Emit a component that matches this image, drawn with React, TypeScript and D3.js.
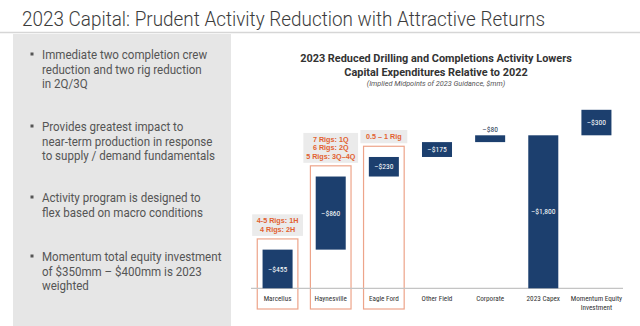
import React from "react";
import * as d3 from "d3";

const categories = ["Marcellus", "Haynesville", "Eagle Ford", "Other Field", "Corporate", "2023 Capex", "Momentum Equity Investment"];
const catLines = [["Marcellus"], ["Haynesville"], ["Eagle Ford"], ["Other Field"], ["Corporate"], ["2023 Capex"], ["Momentum Equity", "Investment"]];
const values = [455, 860, 230, 175, 80, 1800, 300];
const kinds = ["step", "step", "step", "step", "step", "total", "step"];
const valueLabels = ["–$455", "–$860", "–$230", "–$175", "–$80", "–$1,800", "–$300"];
const rigNotes: (string[] | null)[] = [
  ["4-5 Rigs: 1H", "4 Rigs: 2H"],
  ["7 Rigs: 1Q", "6 Rigs: 2Q", "5 Rigs: 3Q–4Q"],
  ["0.5 – 1 Rig"],
  null, null, null, null,
];
const bullets = [
  ["Immediate two completion crew", "reduction and two rig reduction", "in 2Q/3Q"],
  ["Provides greatest impact to", "near-term production in response", "to supply / demand fundamentals"],
  ["Activity program is designed to", "flex based on macro conditions"],
  ["Momentum total equity investment", "of $350mm – $400mm is 2023", "weighted"],
];
const bulletTops = [55, 127, 198, 257];
const pageTitle = "2023 Capital: Prudent Activity Reduction with Attractive Returns";
const chartTitle = ["2023 Reduced Drilling and Completions Activity Lowers", "Capital Expenditures Relative to 2022"];
const chartSub = "(Implied Midpoints of 2023 Guidance, $mm)";

const NAVY = "#1c3f6e";
const ORANGE = "#e2612f";
const ORANGE_BOX = "#eda48a";
const NARROW = "'Liberation Sans Narrow', 'Roboto Condensed', 'Arial Narrow', sans-serif";

export default function App() {
  const W = 640, H = 326;
  const x = d3.scaleBand<string>().domain(categories).range([251, 623]).paddingInner(0.435).paddingOuter(0.2175);
  const y = d3.scaleLinear().domain([0, 2100]).range([288.3, 109.8]);

  let cum = 0;
  const bars = categories.map((c, i) => {
    let y0: number, y1: number;
    if (kinds[i] === "total") {
      y0 = 0; y1 = values[i]; cum = values[i];
    } else {
      y0 = cum; y1 = cum + values[i]; cum = y1;
    }
    return { c, i, y0, y1 };
  });

  return (
    <svg width={W} height={H} style={{ position: "absolute", left: 0, top: 0, background: "#fff" }}>
      <rect x={0} y={0} width={W} height={H} fill="#fff" />
      <text x={22} y={26} fontFamily="Roboto, 'Liberation Sans', sans-serif" fontWeight={300} fontSize={20.5} fill="#3c3c3c" textLength={523} lengthAdjust="spacingAndGlyphs">{pageTitle}</text>
      <line x1={0} x2={W} y1={32.5} y2={32.5} stroke="#d6d6d6" strokeWidth={1.5} />
      <rect x={13} y={34} width={218} height={292} fill="#e6e6e6" />
      {bullets.map((lines, bi) => (
        <g key={bi}>
          <rect x={30.5} y={bulletTops[bi] - 2.5} width={3} height={3} fill="#555" />
          <g transform="translate(42,0) scale(0.918,1)">
            {lines.map((l, li) => (
              <text key={li} x={0} y={bulletTops[bi] + 4.5 + li * 14.5} fontFamily="Roboto, 'Liberation Sans', sans-serif" fontSize={12.6} fill="#555">{l}</text>
            ))}
          </g>
        </g>
      ))}

      {chartTitle.map((t, i) => (
        <text key={i} x={436} y={62 + i * 14} textAnchor="middle" fontFamily="Roboto, 'Liberation Sans', sans-serif" fontWeight={700} fontSize={10.9} fill="#333">{t}</text>
      ))}
      <text x={436} y={85.5} textAnchor="middle" fontFamily="Roboto, 'Liberation Sans', sans-serif" fontStyle="italic" fontSize={7.3} fill="#555">{chartSub}</text>

      {bars.map(b => {
        const notes = rigNotes[b.i];
        if (!notes) return null;
        const bx = x(b.c)!;
        const bw = x.bandwidth();
        const top = y(b.y1) - 10.7;
        const bottom = 309;
        const maxLen = d3.max(notes, n => n.length)!;
        const gw = maxLen * 3.9 + 4;
        const gh = notes.length * 8.3 + 5;
        const cx = bx + bw / 2;
        return (
          <g key={"n" + b.i}>
            <rect x={bx - 5.3} y={top} width={bw + 10.6} height={bottom - top} fill="none" stroke={ORANGE_BOX} strokeWidth={1.2} />
            <rect x={cx - gw / 2} y={top - 3 - gh} width={gw} height={gh} fill="#ebebeb" />
            {notes.map((n, k) => (
              <text key={k} x={cx} y={top - 3 - gh + 9 + k * 8.3} textAnchor="middle" fontFamily="'Liberation Sans', Roboto, sans-serif" fontWeight={700} fontSize={7.2} fill={ORANGE}>{n}</text>
            ))}
          </g>
        );
      })}

      <line x1={251} x2={623} y1={y(0)} y2={y(0)} stroke="#c4c4c4" strokeWidth={1.2} />

      {bars.map(b => {
        const bx = x(b.c)!;
        const bw = x.bandwidth();
        const yt = y(b.y1), yb = y(b.y0);
        const h = yb - yt;
        const inside = h > 12;
        return (
          <g key={b.c}>
            <rect x={bx} y={yt} width={bw} height={h} fill={NAVY} />
            <text x={bx + bw / 2} y={inside ? (yt + yb) / 2 + 2.6 : yt - 3} textAnchor="middle" fontFamily={NARROW} fontSize={7.6} fill={inside ? "#fff" : "#2a3a55"}>{valueLabels[b.i]}</text>
          </g>
        );
      })}

      {categories.map((c, i) => (
        <g key={"l" + i}>
          {catLines[i].map((l, k) => (
            <text key={k} x={x(c)! + x.bandwidth() / 2} y={300.8 + k * 9.4} textAnchor="middle" fontFamily={NARROW} fontSize={7.2} fill="#333">{l}</text>
          ))}
        </g>
      ))}
    </svg>
  );
}
